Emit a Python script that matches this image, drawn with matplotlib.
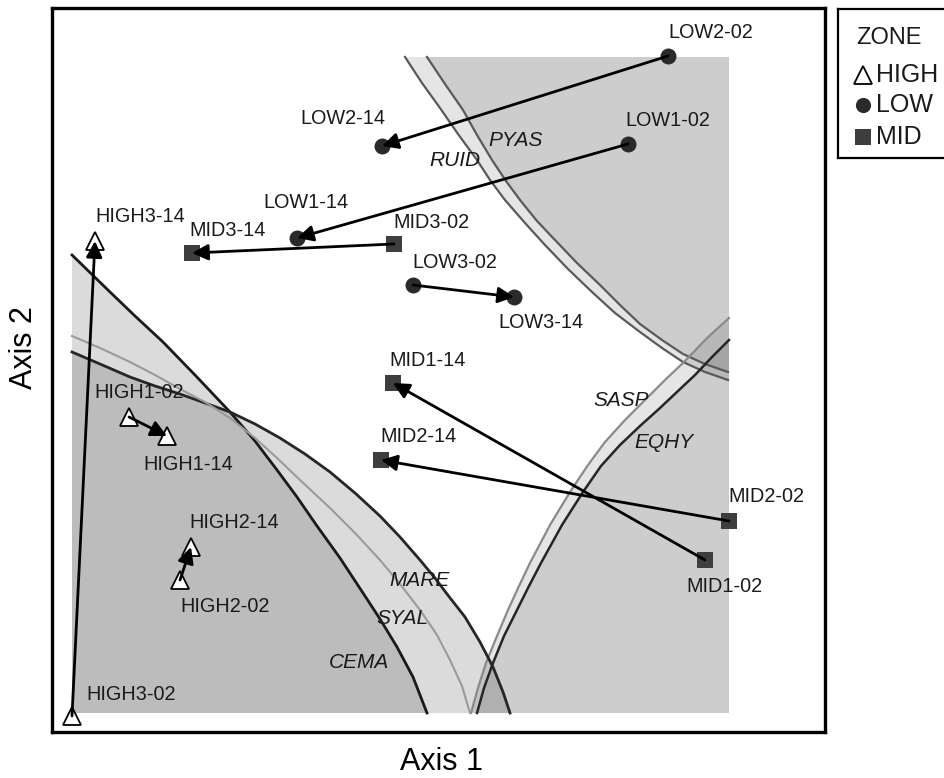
import matplotlib
matplotlib.use("Agg")
import matplotlib.pyplot as plt
from matplotlib.patches import Polygon

plt.rcParams['font.family'] = ['Liberation Sans', 'DejaVu Sans']

# ---------------- data (ordination scores, read in plot units) ----------------
sites = ["LOW1", "LOW2", "LOW3", "MID1", "MID2", "MID3", "HIGH1", "HIGH2", "HIGH3"]
zones = ["LOW", "LOW", "LOW", "MID", "MID", "MID", "HIGH", "HIGH", "HIGH"]
x02 = [628, 668, 413, 705, 729, 394, 129, 180, 72]
y02 = [144, 56, 285, 560, 521, 244, 417, 580, 716]
x14 = [297, 382, 514, 393, 381, 192, 167, 191, 95]
y14 = [238, 146, 297, 383, 460, 253, 436, 547, 241]

# species boundary curves
ruid_x = [405, 422, 440, 458, 477, 490, 505, 525, 545, 568, 592, 615, 640, 662, 683, 705, 728]
ruid_y = [57, 83, 108, 134, 160, 180, 200, 223, 245, 269, 292, 313, 332, 348, 362, 372, 380]
pyas_x = [427, 445, 463, 477, 492, 506, 520, 537, 555, 577, 600, 620, 640, 662, 683, 705, 728]
pyas_y = [57, 84, 110, 135, 160, 181, 200, 221, 240, 263, 285, 305, 324, 340, 354, 364, 372]
sasp_x = [471, 478, 486, 497, 508, 519, 530, 550, 570, 588, 605, 625, 645, 665, 685, 707, 729]
sasp_y = [713, 688, 663, 636, 610, 586, 563, 525, 492, 465, 442, 420, 400, 380, 361, 338, 318]
eqhy_x = [477, 484, 493, 504, 517, 529, 541, 562, 583, 601, 620, 640, 660, 678, 695, 712, 729]
eqhy_y = [713, 688, 663, 636, 610, 586, 563, 525, 492, 466, 445, 426, 408, 391, 375, 357, 340]
cema_x = [72, 110, 135, 163, 195, 230, 255, 277, 297, 317, 340, 363, 380, 397, 413, 427]
cema_y = [255, 292, 316, 342, 375, 412, 441, 470, 497, 526, 558, 593, 619, 647, 677, 713]
mare_x = [72, 100, 130, 155, 180, 205, 230, 255, 280, 305, 330, 355, 380, 400, 420, 435, 447,
          465, 480, 493, 503, 510]
mare_y = [352, 364, 377, 386, 394, 403, 412, 424, 438, 454, 472, 493, 516, 537, 560, 578, 594,
          617, 642, 667, 692, 713]
syal_x = [72, 100, 130, 155, 180, 205, 230, 255, 277, 300, 330, 355, 380, 400, 420, 437, 450,
          462, 470]
syal_y = [336, 348, 362, 375, 389, 402, 418, 438, 458, 480, 508, 533, 560, 584, 610, 635, 660,
          686, 713]

species = ["PYAS", "RUID", "SASP", "EQHY", "MARE", "SYAL", "CEMA"]

legend_zones = ["HIGH", "LOW", "MID"]

# ---------------- layout ----------------
W, H = 944, 778
fig = plt.figure(figsize=(W / 100, H / 100), dpi=100)
L, R, T, B = 52, 825, 8, 732
ax = fig.add_axes([L / W, 1 - B / H, (R - L) / W, (B - T) / H])
ax.set_xlim(L, R)
ax.set_ylim(B, T)
ax.set_xticks([])
ax.set_yticks([])
for s in ax.spines.values():
    s.set_linewidth(2.4)
    s.set_color('black')

XMIN, XMAX, YMIN, YMAX = 72, 729, 57, 713

def fill_region(xs, ys, closing, alpha):
    pts = list(zip(xs, ys)) + closing
    ax.add_patch(Polygon(pts, closed=True, facecolor='black', edgecolor='none',
                         alpha=alpha, zorder=1))

fill_region(ruid_x, ruid_y, [(XMAX, ruid_y[-1]), (XMAX, YMIN)], 0.10)
fill_region(pyas_x, pyas_y, [(XMAX, pyas_y[-1]), (XMAX, YMIN)], 0.10)
fill_region(sasp_x, sasp_y, [(XMAX, sasp_y[-1]), (XMAX, YMAX)], 0.10)
fill_region(eqhy_x, eqhy_y, [(XMAX, eqhy_y[-1]), (XMAX, YMAX)], 0.10)
fill_region(cema_x, cema_y, [(XMIN, YMAX)], 0.14)
fill_region(mare_x, mare_y, [(XMIN, YMAX)], 0.14)

ax.plot(ruid_x, ruid_y, color='#5a5a5a', lw=1.6, zorder=2)
ax.plot(pyas_x, pyas_y, color='#5a5a5a', lw=1.6, zorder=2)
ax.plot(sasp_x, sasp_y, color='#8a8a8a', lw=1.6, zorder=2)
ax.plot(eqhy_x, eqhy_y, color='#262626', lw=1.8, zorder=2)
ax.plot(cema_x, cema_y, color='#1a1a1a', lw=2.0, zorder=2)
ax.plot(mare_x, mare_y, color='#262626', lw=2.0, zorder=2)
ax.plot(syal_x, syal_y, color='#9a9a9a', lw=1.5, zorder=2)

# species labels
sp_pos = {"PYAS": (516, 140), "RUID": (455, 161), "SASP": (621, 401),
          "EQHY": (664, 443), "MARE": (419, 580), "SYAL": (402, 618),
          "CEMA": (359, 662)}
for sp in species:
    ax.text(*sp_pos[sp], sp, style='italic', fontsize=15, color='#1a1a1a',
            ha='center', va='center', zorder=3)

# markers
mstyle = {"HIGH": dict(marker='^', ms=13, mfc='white', mec='black', mew=1.3),
          "LOW": dict(marker='o', ms=11.5, mfc='#2a2a2a', mec='#2a2a2a', mew=0),
          "MID": dict(marker='s', ms=12, mfc='#3e3e3e', mec='#3e3e3e', mew=0)}
for i, z in enumerate(zones):
    ax.plot([x02[i], x14[i]], [y02[i], y14[i]], linestyle='none', zorder=4,
            **mstyle[z])

# arrows from 2002 to 2014
for i in range(len(sites)):
    ax.annotate("", xy=(x14[i], y14[i]), xytext=(x02[i], y02[i]),
                arrowprops=dict(arrowstyle='-|>', color='black', lw=2.0,
                                mutation_scale=24, shrinkA=0, shrinkB=0),
                zorder=5)

# point labels (offsets in plot units)
off02 = {"LOW1": (40, -23), "LOW2": (43, -24), "LOW3": (42, -22), "MID1": (19, 27),
         "MID2": (37, -24), "MID3": (37, -22), "HIGH1": (10, -25), "HIGH2": (45, 27),
         "HIGH3": (59, -22)}
off14 = {"LOW1": (9, -35), "LOW2": (-39, -28), "LOW3": (27, 26), "MID1": (35, -23),
         "MID2": (37, -23), "MID3": (36, -22), "HIGH1": (21, 28), "HIGH2": (43, -25),
         "HIGH3": (45, -24)}
for i, s in enumerate(sites):
    dx, dy = off02[s]
    ax.text(x02[i] + dx, y02[i] + dy, f"{s}-02", fontsize=14.3, color='#1a1a1a',
            ha='center', va='center', zorder=6)
    dx, dy = off14[s]
    ax.text(x14[i] + dx, y14[i] + dy, f"{s}-14", fontsize=14.3, color='#1a1a1a',
            ha='center', va='center', zorder=6)

# axis titles
fig.text(442 / W, 1 - 762 / H, "Axis 1", fontsize=22, ha='center', va='center')
fig.text(24 / W, 1 - 348 / H, "Axis 2", fontsize=22, ha='center', va='center',
         rotation=90)

# legend box
lax = fig.add_axes([838 / W, 1 - 158 / H, (975 - 838) / W, (158 - 9) / H])
lax.set_xlim(838, 975)
lax.set_ylim(158, 9)
lax.set_xticks([])
lax.set_yticks([])
for s in lax.spines.values():
    s.set_linewidth(1.6)
lax.text(889, 38, "ZONE", fontsize=17, ha='center', va='center', color='#1a1a1a')
ly = [75, 105, 137]
for z, yy in zip(legend_zones, ly):
    st = dict(mstyle[z])
    st['ms'] = st['ms'] * 0.95
    lax.plot([863], [yy], linestyle='none', **st)
    lax.text(876, yy, z, fontsize=18, ha='left', va='center', color='#1a1a1a')

fig.savefig("out.png", dpi=100)
